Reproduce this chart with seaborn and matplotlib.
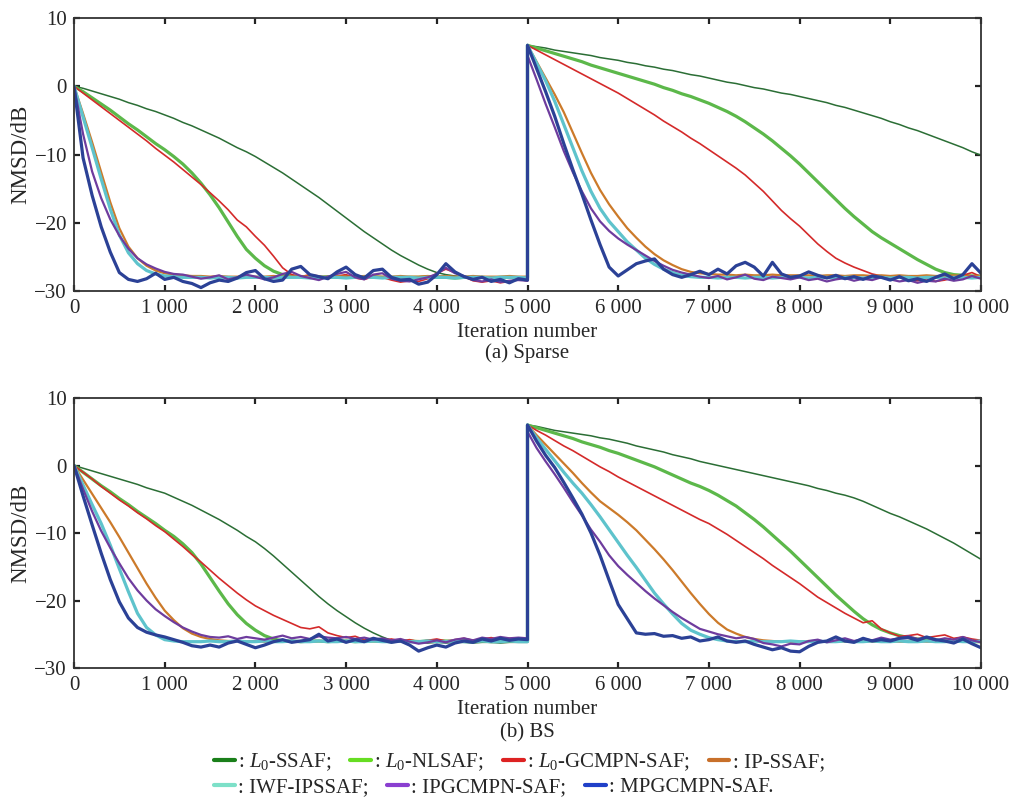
import matplotlib
matplotlib.use("Agg")
import matplotlib.pyplot as plt
from matplotlib.ticker import FuncFormatter
from matplotlib.lines import Line2D
import seaborn as sns
import pandas as pd

# ---------------- data (NMSD in dB, sampled every 100 iterations) ----------------
ITER_H1 = list(range(0, 5001, 100))
ITER_H2 = list(range(5000, 10001, 100))

NAMES = ["L0-SSAF", "L0-NLSAF", "L0-GCMPN-SAF", "IP-SSAF", "IWF-IPSSAF", "IPGCMPN-SAF", "MPGCMPN-SAF"]
LABELS = [r": $L_0$-SSAF;", r": $L_0$-NLSAF;", r": $L_0$-GCMPN-SAF;", ": IP-SSAF;",
          ": IWF-IPSSAF;", ": IPGCMPN-SAF;", ": MPGCMPN-SAF."]

# ---- (a) Sparse, first half ----
A1_SSAF = [0, -0.3, -0.7, -1.1, -1.5, -1.9, -2.4, -2.8, -3.3, -3.7,
           -4.2, -4.7, -5.3, -5.8, -6.4, -7.0, -7.6, -8.3, -9.0, -9.6,
           -10.3, -11.1, -11.9, -12.7, -13.6, -14.5, -15.4, -16.3, -17.3, -18.3,
           -19.3, -20.3, -21.3, -22.2, -23.1, -24.0, -24.8, -25.5, -26.2, -26.8,
           -27.3, -27.6, -27.8, -27.9, -28.0, -28.0, -28.1, -28.0, -28.1, -28.0,
           -28.1]
A1_NLSAF = [0, -0.8, -1.7, -2.6, -3.5, -4.5, -5.5, -6.4, -7.4, -8.4,
            -9.3, -10.3, -11.4, -12.7, -14.2, -15.9, -17.8, -19.9, -22.0, -23.9,
            -25.2, -26.3, -27.1, -27.6, -27.8, -27.9, -27.9, -28.0, -27.9, -28.0,
            -27.9, -28.0, -28.0, -27.9, -28.0, -28.0, -28.1, -28.0, -28.0, -27.9,
            -28.0, -28.0, -28.1, -28.0, -28.0, -28.0, -28.1, -28.0, -28.0, -28.1,
            -28.0]
A1_GCMPN = [0, -1.0, -2.0, -3.0, -4.0, -5.0, -6.0, -7.0, -8.0, -9.1,
            -10.1, -11.1, -12.2, -13.3, -14.4, -15.6, -16.8, -18.1, -19.6, -20.6,
            -22.0, -23.3, -24.9, -26.6, -27.6, -27.9, -27.6, -27.8, -28.2, -27.8,
            -27.6, -28.1, -28.3, -27.9, -28.0, -28.4, -28.7, -28.5, -28.6, -28.2,
            -27.4, -26.8, -27.3, -27.9, -28.5, -28.7, -28.5, -28.8, -28.6, -28.3,
            -28.5]
A1_IP = [0, -4.0, -8.2, -12.6, -17.0, -20.8, -23.5, -25.2, -26.3, -27.0,
         -27.4, -27.6, -27.7, -27.8, -27.8, -27.9, -27.8, -27.9, -27.9, -27.8,
         -27.9, -27.9, -27.8, -27.9, -27.9, -27.8, -27.9, -27.9, -27.9, -27.8,
         -27.9, -27.9, -27.8, -27.9, -27.9, -27.9, -27.8, -27.9, -27.9, -27.8,
         -27.9, -27.8, -27.9, -27.9, -27.8, -27.9, -27.9, -27.9, -27.8, -27.9,
         -27.9]
A1_IWF = [0, -4.5, -9.0, -13.6, -18.0, -21.8, -24.4, -26.0, -27.0, -27.5,
          -27.8, -27.9, -28.0, -28.0, -28.0, -28.1, -28.0, -28.0, -28.1, -28.0,
          -28.0, -28.0, -28.1, -28.0, -28.0, -28.0, -28.1, -28.0, -28.0, -28.0,
          -28.1, -28.0, -28.0, -28.0, -28.1, -28.0, -28.0, -28.0, -28.1, -28.0,
          -28.0, -28.0, -28.1, -28.0, -28.0, -28.0, -28.1, -28.0, -28.0, -28.0,
          -28.1]
A1_IPG = [0, -7.0, -12.5, -16.4, -19.5, -21.9, -23.8, -25.2, -26.1, -26.7,
          -27.2, -27.5, -27.6, -27.9, -28.2, -28.0, -27.7, -28.3, -28.0, -27.6,
          -27.9, -28.3, -28.0, -27.5, -27.2, -27.8, -28.1, -28.4, -27.9, -27.5,
          -27.2, -28.0, -28.3, -27.6, -27.4, -28.2, -28.5, -28.6, -28.3, -28.0,
          -27.5, -26.6, -27.4, -27.8, -28.4, -28.6, -28.3, -28.7, -28.5, -28.4,
          -28.5]
A1_MPG = [0, -10.5, -16.0, -20.6, -24.3, -27.3, -28.3, -28.6, -28.2, -27.4,
          -28.3, -28.0, -28.6, -28.9, -29.5, -28.8, -28.4, -28.6, -28.1, -27.3,
          -27.0, -28.2, -28.6, -28.4, -26.8, -26.4, -27.6, -27.9, -28.2, -27.2,
          -26.5, -27.6, -28.1, -27.0, -26.8, -28.0, -28.4, -28.3, -29.0, -28.7,
          -27.6, -26.0, -27.2, -27.9, -28.3, -28.0, -28.6, -28.3, -28.8, -28.2,
          -28.4]

# ---- (a) Sparse, second half ----
A2_SSAF = [6.0, 5.8, 5.6, 5.3, 5.1, 4.9, 4.7, 4.5, 4.2, 4.0,
           3.8, 3.5, 3.3, 3.0, 2.8, 2.5, 2.3, 2.0, 1.7, 1.5,
           1.2, 0.9, 0.6, 0.4, 0.1, -0.2, -0.4, -0.7, -1.0, -1.2,
           -1.5, -1.8, -2.1, -2.4, -2.8, -3.1, -3.5, -3.9, -4.3, -4.7,
           -5.2, -5.6, -6.1, -6.5, -7.0, -7.5, -8.0, -8.5, -9.0, -9.6,
           -10.1]
A2_NLSAF = [6.0, 5.6, 5.2, 4.8, 4.4, 4.0, 3.6, 3.1, 2.7, 2.3,
            1.9, 1.5, 1.1, 0.7, 0.3, -0.2, -0.6, -1.1, -1.5, -2.0,
            -2.5, -3.1, -3.7, -4.4, -5.2, -6.1, -7.0, -8.0, -9.1, -10.2,
            -11.4, -12.7, -14.0, -15.3, -16.6, -17.9, -19.1, -20.2, -21.3, -22.2,
            -23.0, -23.8, -24.6, -25.4, -26.1, -26.8, -27.3, -27.6, -27.7, -27.8,
            -27.8]
A2_GCMPN = [6.0, 5.3, 4.6, 3.9, 3.2, 2.5, 1.8, 1.1, 0.4, -0.3,
            -1.0, -1.8, -2.6, -3.4, -4.2, -5.1, -5.9, -6.7, -7.6, -8.4,
            -9.3, -10.2, -11.1, -12.0, -13.0, -14.2, -15.4, -16.8, -18.2, -19.4,
            -20.5, -21.8, -23.1, -24.2, -25.2, -25.9, -26.5, -27.0, -27.5, -27.8,
            -28.1, -27.9, -28.3, -28.5, -28.2, -28.6, -28.4, -28.0, -27.7, -27.3,
            -27.9]
A2_IP = [6.0, 3.6, 1.2, -1.2, -3.8, -6.8, -9.8, -12.7, -15.2, -17.3,
         -19.1, -20.8, -22.2, -23.5, -24.6, -25.5, -26.2, -26.8, -27.2, -27.4,
         -27.5, -27.6, -27.6, -27.7, -27.6, -27.7, -27.7, -27.6, -27.7, -27.7,
         -27.7, -27.7, -27.8, -27.7, -27.7, -27.8, -27.7, -27.7, -27.8, -27.7,
         -27.8, -27.7, -27.8, -27.8, -27.7, -27.8, -27.8, -27.7, -27.8, -27.8,
         -27.8]
A2_IWF = [6.0, 3.4, 0.8, -2.2, -5.6, -9.0, -12.4, -15.4, -17.9, -19.8,
          -21.3, -22.8, -24.0, -25.2, -26.1, -26.8, -27.3, -27.7, -27.9, -28.0,
          -28.0, -28.1, -28.0, -28.0, -28.1, -28.0, -28.0, -28.1, -28.0, -28.0,
          -28.0, -28.1, -28.0, -28.0, -28.1, -28.0, -28.0, -28.1, -28.0, -28.0,
          -28.1, -28.0, -28.0, -28.1, -28.0, -28.0, -28.1, -28.0, -28.0, -28.1,
          -28.0]
A2_IPG = [4.5, 1.0, -2.6, -6.0, -9.5, -12.6, -15.4, -17.9, -19.8, -21.2,
          -22.3, -23.2, -24.0, -24.8, -25.6, -26.3, -26.9, -27.3, -27.6, -27.9,
          -28.1, -27.8, -28.3, -28.0, -27.6, -28.2, -28.4, -27.9, -28.1, -28.3,
          -28.0, -28.4, -28.2, -28.6, -28.3, -28.1, -28.5, -28.2, -28.4, -28.0,
          -28.3, -28.6, -28.4, -28.8, -28.5, -28.6, -28.2, -28.5, -28.3, -27.8,
          -28.2]
A2_MPG = [6.0, 2.6, -0.8, -4.4, -8.4, -12.2, -15.8, -19.6, -23.2, -26.5,
          -27.8, -26.9, -26.0, -25.6, -25.3, -26.8, -27.6, -28.0, -27.6, -27.1,
          -27.6, -26.8, -27.5, -26.3, -25.8, -26.5, -27.8, -25.8, -27.5, -28.0,
          -27.8, -27.2, -27.7, -28.1, -27.7, -28.2, -27.9, -28.3, -27.8, -28.0,
          -28.4, -27.9, -28.5, -28.2, -28.6, -28.0, -27.5, -28.2, -27.6, -26.0,
          -27.4]

# ---- (b) BS, first half ----
B1_SSAF = [0, -0.4, -0.8, -1.2, -1.6, -2.0, -2.4, -2.8, -3.3, -3.7,
           -4.1, -4.7, -5.3, -5.9, -6.6, -7.3, -8.0, -8.8, -9.6, -10.5,
           -11.3, -12.3, -13.4, -14.6, -15.8, -17.0, -18.2, -19.4, -20.5, -21.5,
           -22.4, -23.3, -24.1, -24.8, -25.4, -25.9, -26.1, -26.2, -26.2, -26.3,
           -26.2, -26.3, -26.2, -26.2, -26.3, -26.2, -26.2, -26.3, -26.2, -26.2,
           -26.2]
B1_NLSAF = [0, -1.0, -2.0, -3.0, -3.9, -4.9, -5.8, -6.8, -7.7, -8.6,
            -9.6, -10.5, -11.6, -12.9, -14.6, -16.6, -18.6, -20.5, -22.1, -23.4,
            -24.4, -25.2, -25.7, -26.0, -26.0, -26.1, -26.0, -26.0, -26.1, -26.0,
            -26.0, -26.1, -26.0, -26.0, -26.0, -26.1, -26.0, -26.0, -26.1, -26.0,
            -26.0, -26.0, -26.1, -26.0, -26.0, -26.0, -26.1, -26.0, -26.0, -26.0,
            -26.0]
B1_GCMPN = [0, -1.0, -2.0, -3.1, -4.1, -5.1, -6.0, -7.0, -7.9, -8.9,
            -9.8, -10.9, -12.0, -13.2, -14.3, -15.5, -16.7, -17.8, -18.9, -19.9,
            -20.8, -21.5, -22.2, -22.8, -23.4, -24.0, -24.2, -23.9, -24.8, -25.2,
            -25.5, -25.3, -25.8, -25.6, -25.9, -25.7, -26.0, -25.8, -26.1, -25.9,
            -25.7, -26.0, -25.8, -25.6, -25.9, -25.7, -25.5, -25.8, -25.6, -25.7,
            -25.6]
B1_IP = [0, -2.1, -4.2, -6.3, -8.4, -10.6, -12.9, -15.2, -17.5, -19.6,
         -21.5, -22.9, -24.1, -24.9, -25.4, -25.7, -25.9, -26.0, -26.0, -26.1,
         -26.0, -26.1, -26.0, -26.0, -26.1, -26.0, -26.1, -26.0, -26.0, -26.1,
         -26.0, -26.1, -26.0, -26.0, -26.1, -26.0, -26.1, -26.0, -26.0, -26.1,
         -26.0, -26.1, -26.0, -26.0, -26.1, -26.0, -26.1, -26.0, -26.0, -26.1,
         -26.0]
B1_IWF = [0, -2.9, -5.8, -8.6, -11.8, -15.3, -18.7, -21.9, -24.0, -25.1,
          -25.8, -26.0, -26.1, -26.1, -26.1, -26.0, -26.1, -26.1, -26.0, -26.1,
          -26.1, -26.0, -26.1, -26.1, -26.0, -26.1, -26.1, -26.0, -26.1, -26.1,
          -26.0, -26.1, -26.1, -26.0, -26.1, -26.1, -26.0, -26.1, -26.1, -26.0,
          -26.1, -26.1, -26.0, -26.1, -26.1, -26.0, -26.1, -26.1, -26.0, -26.1,
          -26.1]
B1_IPG = [0, -3.5, -6.8, -9.7, -12.2, -14.5, -16.7, -18.5, -20.0, -21.3,
          -22.3, -23.2, -24.0, -24.6, -25.1, -25.4, -25.5, -25.3, -25.7, -25.4,
          -25.6, -25.8, -25.5, -25.2, -25.6, -25.4, -25.7, -25.3, -25.5, -25.6,
          -25.4, -25.7, -25.5, -25.8, -25.6, -25.9, -25.7, -26.1, -26.4, -26.2,
          -25.9, -26.2, -25.8, -25.6, -25.9, -25.5, -25.7, -25.4, -25.6, -25.5,
          -25.6]
B1_MPG = [0, -4.5, -8.8, -13.0, -16.9, -20.2, -22.6, -24.0, -24.7, -25.1,
          -25.4, -25.8, -26.2, -26.7, -26.9, -26.6, -26.9, -26.3, -26.0, -26.5,
          -27.0, -26.6, -26.1, -25.8, -26.2, -26.0, -25.8, -25.0, -26.0, -25.7,
          -26.2, -25.8, -26.1, -25.6, -25.9, -26.2, -26.0, -26.6, -27.5, -27.0,
          -26.6, -26.9, -26.3, -26.0, -26.2, -25.7, -26.0, -25.6, -25.9, -25.7,
          -25.8]

# ---- (b) BS, second half ----
B2_SSAF = [6.0, 5.8, 5.5, 5.2, 5.0, 4.8, 4.6, 4.4, 4.1, 3.9,
           3.6, 3.3, 2.9, 2.6, 2.3, 2.0, 1.6, 1.3, 1.0, 0.6,
           0.3, 0.0, -0.3, -0.6, -0.9, -1.2, -1.5, -1.8, -2.1, -2.4,
           -2.7, -3.0, -3.4, -3.7, -4.1, -4.4, -4.8, -5.3, -5.9, -6.5,
           -7.1, -7.6, -8.2, -8.8, -9.4, -10.1, -10.8, -11.5, -12.3, -13.1,
           -13.9]
B2_NLSAF = [6.0, 5.6, 5.2, 4.8, 4.4, 4.0, 3.5, 3.1, 2.7, 2.2,
            1.8, 1.3, 0.8, 0.3, -0.2, -0.8, -1.4, -2.0, -2.6, -3.1,
            -3.7, -4.4, -5.2, -6.0, -7.0, -8.0, -9.1, -10.3, -11.5, -12.7,
            -14.0, -15.3, -16.6, -17.9, -19.2, -20.4, -21.6, -22.7, -23.6, -24.3,
            -24.8, -25.2, -25.5, -25.7, -25.8, -25.9, -26.0, -26.0, -26.0, -26.1,
            -26.1]
B2_GCMPN = [6.0, 5.2, 4.5, 3.7, 2.9, 2.2, 1.4, 0.6, -0.2, -0.9,
            -1.7, -2.4, -3.1, -3.8, -4.5, -5.2, -5.9, -6.6, -7.3, -8.0,
            -8.6, -9.4, -10.2, -11.1, -12.0, -12.9, -13.8, -14.8, -15.7, -16.6,
            -17.5, -18.5, -19.5, -20.3, -21.1, -21.9, -22.6, -23.3, -23.0, -24.2,
            -24.8, -25.3, -25.2, -25.0, -25.5, -25.3, -25.1, -25.6, -25.4, -25.7,
            -25.9]
B2_IP = [6.0, 4.5, 3.1, 1.7, 0.3, -1.1, -2.6, -4.0, -5.3, -6.3,
         -7.3, -8.4, -9.6, -11.0, -12.4, -13.9, -15.5, -17.2, -18.9, -20.5,
         -22.0, -23.3, -24.3, -24.9, -25.4, -25.7, -25.9, -26.0, -26.1, -26.1,
         -26.1, -26.0, -26.1, -26.1, -26.0, -26.1, -26.1, -26.0, -26.1, -26.1,
         -26.0, -26.1, -26.1, -26.0, -26.1, -26.1, -26.0, -26.1, -26.1, -26.0,
         -26.1]
B2_IWF = [6.0, 4.1, 2.4, 0.7, -1.0, -2.6, -4.1, -5.8, -7.6, -9.5,
          -11.4, -13.3, -15.1, -17.0, -18.9, -20.5, -22.0, -23.4, -24.4, -25.0,
          -25.5, -25.8, -26.0, -26.1, -26.1, -26.0, -26.1, -26.1, -26.1, -26.0,
          -26.1, -26.1, -26.0, -26.1, -26.1, -26.0, -26.1, -26.1, -26.0, -26.1,
          -26.1, -26.0, -26.1, -26.1, -26.0, -26.1, -26.1, -26.0, -26.1, -26.1,
          -26.0]
B2_IPG = [5.0, 2.6, 0.6, -1.3, -3.3, -5.4, -7.4, -9.5, -11.3, -13.3,
          -14.9, -16.2, -17.4, -18.6, -19.7, -20.7, -21.7, -22.6, -23.4, -24.2,
          -24.6, -25.0, -25.3, -25.6, -25.4, -25.7, -26.3, -26.5, -26.8, -26.4,
          -26.5, -26.0, -25.8, -26.2, -25.9, -25.6, -26.0, -25.7, -25.9, -25.5,
          -25.8, -25.6, -25.3, -25.7, -25.5, -25.9, -25.6, -25.8, -25.4, -25.9,
          -26.2]
B2_MPG = [6.0, 3.6, 1.5, -0.3, -2.5, -4.8, -7.2, -10.0, -13.3, -17.0,
          -20.6, -22.7, -24.8, -25.0, -24.9, -25.3, -25.2, -25.6, -25.4, -26.0,
          -25.8, -25.4, -26.0, -26.2, -26.0, -26.5, -26.9, -27.3, -27.0, -27.5,
          -27.6, -26.8, -26.2, -26.0, -25.4, -26.0, -26.2, -25.6, -26.0, -25.8,
          -26.0, -25.6, -25.5, -25.9, -25.4, -25.8, -26.0, -26.3, -25.7, -26.4,
          -27.0]

PANEL_A = [(A1_SSAF, A2_SSAF), (A1_NLSAF, A2_NLSAF), (A1_GCMPN, A2_GCMPN), (A1_IP, A2_IP),
           (A1_IWF, A2_IWF), (A1_IPG, A2_IPG), (A1_MPG, A2_MPG)]
PANEL_B = [(B1_SSAF, B2_SSAF), (B1_NLSAF, B2_NLSAF), (B1_GCMPN, B2_GCMPN), (B1_IP, B2_IP),
           (B1_IWF, B2_IWF), (B1_IPG, B2_IPG), (B1_MPG, B2_MPG)]

Y_TICKS = [-30, -20, -10, 0, 10]
X_TICKS = list(range(0, 10001, 1000))

# ---------------- styling ----------------
COLORS = ["#2b6e35", "#5cb84a", "#d42a2a", "#cc7a2a", "#5ec3cc", "#6e3c9e", "#2b4196"]
LEG_COLORS = ["#1a7f1a", "#66dd22", "#dd2222", "#c8702a", "#7de0c8", "#8a3fd0", "#2040c8"]
WIDTHS = [1.1, 2.3, 1.2, 1.6, 2.3, 1.6, 2.3]

sns.set_theme(style="ticks")
plt.rcParams["font.family"] = ["Liberation Serif", "DejaVu Serif"]
plt.rcParams["mathtext.fontset"] = "custom"
plt.rcParams["mathtext.rm"] = "Liberation Serif"
plt.rcParams["mathtext.it"] = "Liberation Serif:italic"

FS = 15

fig = plt.figure(figsize=(10.14, 7.99), dpi=100)
W, H = 1014, 799
axA = fig.add_axes([74 / W, 1 - 291 / H, (981 - 74) / W, (291 - 18) / H])
axB = fig.add_axes([74 / W, 1 - 668 / H, (981 - 74) / W, (668 - 398) / H])

fmt = FuncFormatter(lambda v, p: f"{int(round(v)):,}".replace(",", " "))

for ax, panel, caption, cap_y in [(axA, PANEL_A, "(a) Sparse", 353), (axB, PANEL_B, "(b) BS", 733)]:
    for (h1, h2), col, lw, name in zip(panel, COLORS, WIDTHS, NAMES):
        assert len(h1) == 51 and len(h2) == 51, name
        df = pd.DataFrame({"iter": ITER_H1 + ITER_H2, "nmsd": h1 + h2})
        sns.lineplot(data=df, x="iter", y="nmsd", ax=ax, color=col, lw=lw,
                     estimator=None, sort=False, legend=False)
    ax.set_xlim(0, 10000)
    ax.set_ylim(-30, 10)
    ax.set_xticks(X_TICKS)
    ax.set_yticks(Y_TICKS)
    ax.xaxis.set_major_formatter(fmt)
    ax.tick_params(direction="in", top=True, right=True, length=4, width=1.6,
                   labelsize=FS, color="#222222")
    ax.tick_params(axis="x", pad=6)
    ax.tick_params(axis="y", pad=5)
    for s in ax.spines.values():
        s.set_linewidth(1.3)
        s.set_color("#333333")
    ax.set_xlabel("Iteration number", fontsize=FS, labelpad=3)
    ax.set_ylabel("NMSD/dB", fontsize=16.5, labelpad=2)
    fig.text(527.5 / W, 1 - cap_y / H, caption, ha="center", va="center", fontsize=FS)

# ---------------- legend (two rows below the plots) ----------------
handles = [Line2D([], [], color=c, lw=3) for c in LEG_COLORS]
fig.legend(handles[:4], LABELS[:4], loc="center left", bbox_to_anchor=(214 / W, 1 - 762 / H),
           ncol=4, frameon=False, fontsize=FS, handlelength=1.0, handletextpad=0.15,
           columnspacing=0.9, borderpad=0, borderaxespad=0)
fig.legend(handles[4:], LABELS[4:], loc="center left", bbox_to_anchor=(214 / W, 1 - 787 / H),
           ncol=3, frameon=False, fontsize=FS, handlelength=1.0, handletextpad=0.15,
           columnspacing=0.9, borderpad=0, borderaxespad=0)

fig.savefig("out.png", dpi=100)
